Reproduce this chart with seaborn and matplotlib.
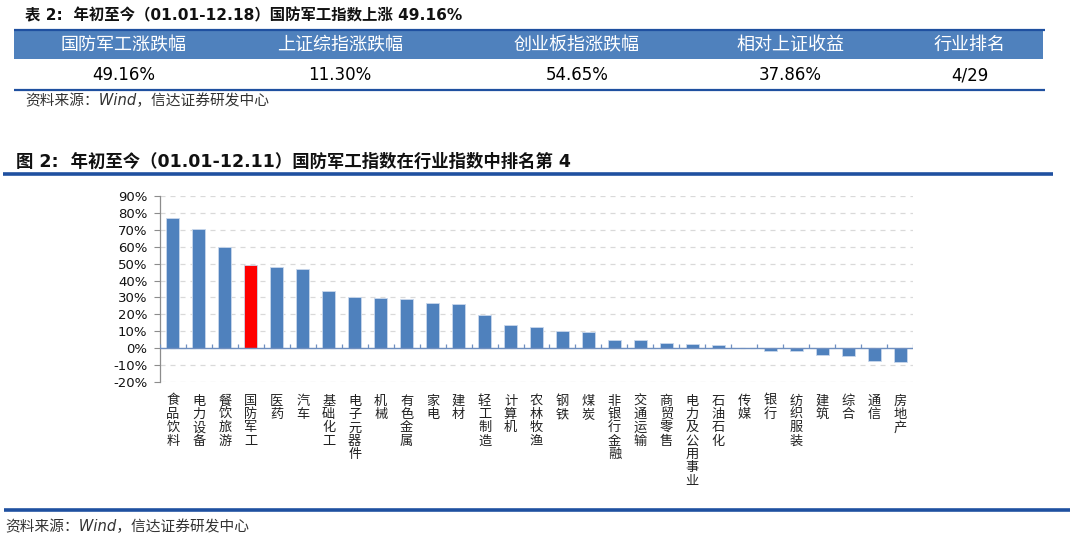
import matplotlib
matplotlib.use("Agg")
import matplotlib.pyplot as plt
import seaborn as sns
import numpy as np
from matplotlib.patches import Rectangle
from matplotlib.lines import Line2D

# ---------------- data ----------------
table_title = "表 2:  年初至今（01.01-12.18）国防军工指数上涨 49.16%"
table_headers = ["国防军工涨跌幅", "上证综指涨跌幅", "创业板指涨跌幅", "相对上证收益", "行业排名"]
table_values = ["49.16%", "11.30%", "54.65%", "37.86%", "4/29"]
source_text = "资料来源：Wind，信达证券研发中心"
chart_title = "图 2:  年初至今（01.01-12.11）国防军工指数在行业指数中排名第 4"

industries = ["食品饮料", "电力设备", "餐饮旅游", "国防军工", "医药", "汽车", "基础化工",
              "电子元器件", "机械", "有色金属", "家电", "建材", "轻工制造", "计算机",
              "农林牧渔", "钢铁", "煤炭", "非银行金融", "交通运输", "商贸零售",
              "电力及公用事业", "石油石化", "传媒", "银行", "纺织服装", "建筑", "综合",
              "通信", "房地产"]
returns = [77.0, 70.5, 60.0, 49.2, 48.0, 47.0, 34.1, 30.5, 29.9, 28.9, 26.6, 26.2,
           19.9, 13.6, 12.6, 10.2, 9.8, 5.1, 4.7, 2.8, 2.6, 1.6, 0.2, -1.6, -1.6,
           -3.9, -4.7, -7.5, -7.9]
highlight = "国防军工"
y_ticks = [-20, -10, 0, 10, 20, 30, 40, 50, 60, 70, 80, 90]

# ---------------- style ----------------
sns.set_theme(style="white")
FAM = ["Noto Sans CJK SC", "DejaVu Sans"]
LAT = ["DejaVu Sans", "Noto Sans CJK SC"]
plt.rcParams["font.family"] = FAM
plt.rcParams["axes.unicode_minus"] = False

BLUE = "#4F81BD"
RED = "#FF0000"
DARK = "#1F50A0"

W, H = 1080, 544
fig = plt.figure(figsize=(W / 100, H / 100), dpi=100)


def fx(x):
    return x / W


def fy(y):
    return 1 - y / H


def hline(x0, x1, y, lw, color):
    fig.add_artist(Line2D([fx(x0), fx(x1)], [fy(y), fy(y)], transform=fig.transFigure,
                          color=color, lw=lw, solid_capstyle="butt"))


# ---------------- table block ----------------
fig.text(fx(25), fy(16), table_title, fontsize=11.1, fontweight="bold", family=LAT,
         ha="left", va="center", color="#111111")
fig.add_artist(Rectangle((fx(14), fy(59)), fx(1043) - fx(14), fy(30) - fy(59),
                         transform=fig.transFigure, facecolor=BLUE, edgecolor="none"))
hline(14, 1045, 29.5, 1.6, DARK)
hline(14, 1045, 89.5, 1.6, DARK)
col_x = [124, 340, 577, 790, 970]
for cx, head, val in zip(col_x, table_headers, table_values):
    fig.text(fx(cx), fy(45), head, fontsize=13, color="white", family=FAM,
             ha="center", va="center", fontweight="medium")
    fig.text(fx(cx), fy(75), val, fontsize=12, color="black", family=LAT,
             ha="center", va="center")
fig.text(fx(25), fy(101), source_text, fontsize=10.6, style="italic", family=LAT,
         color="#333333", ha="left", va="center")

# ---------------- chart title ----------------
fig.text(fx(16), fy(162), chart_title, fontsize=12.5, fontweight="bold", family=LAT,
         ha="left", va="center", color="#111111")
hline(3, 1053, 174, 2.6, DARK)

# ---------------- bar chart ----------------
ax = fig.add_axes([fx(160), fy(382), fx(913) - fx(160), fy(196) - fy(382)])
palette = {c: (RED if c == highlight else BLUE) for c in industries}
sns.barplot(x=industries, y=returns, hue=industries, palette=palette, legend=False,
            ax=ax, width=0.5, edgecolor="#C9D8EC", linewidth=0.6, saturation=1)
ax.set_ylim(-20, 90)
ax.set_xlim(-0.5, len(industries) - 0.5)
ax.set_yticks(y_ticks)
ax.set_yticklabels([f"{v}%" for v in y_ticks], fontsize=9.5, family=LAT, color="#111111")
ax.yaxis.grid(True, color="#D9D9D9", linestyle=(0, (4, 4)), linewidth=0.9)
ax.set_axisbelow(True)
for s in ["top", "right", "bottom"]:
    ax.spines[s].set_visible(False)
ax.spines["left"].set_color("#8C8C8C")
ax.spines["left"].set_linewidth(0.9)
ax.tick_params(axis="y", length=4, width=0.8, color="#8C8C8C", pad=5, left=True)

# zero axis with category-boundary ticks
ax.axhline(0, color="#6F8FC0", lw=1.0, zorder=3)
bounds = np.arange(len(industries) + 1) - 0.5
ax.vlines(bounds, 0, 2.4, color="#6F8FC0", lw=0.9, zorder=3)

ax.set_xticks(range(len(industries)))
ax.set_xticklabels(["\n".join(c) for c in industries], fontsize=9.5, family=FAM,
                   va="top", linespacing=1.04, color="#222222")
ax.tick_params(axis="x", length=0, pad=9, bottom=False)
ax.set_xlabel("")
ax.set_ylabel("")

# ---------------- footer ----------------
hline(4, 1070, 510, 2.6, DARK)
fig.text(fx(5), fy(527), source_text, fontsize=10.6, style="italic", family=LAT,
         color="#333333", ha="left", va="center")

fig.savefig("out.png", dpi=100)
